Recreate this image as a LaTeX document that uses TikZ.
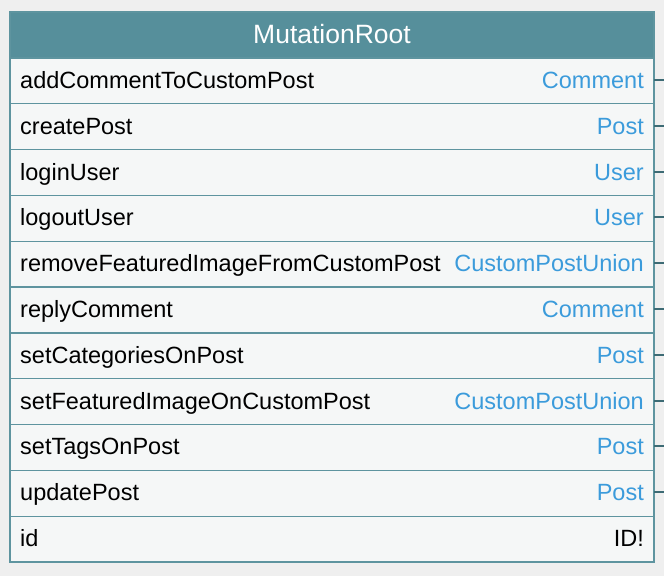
\documentclass[tikz,border=0pt]{standalone}
\usepackage{fontspec}
\setmainfont{Liberation Sans}
\definecolor{pagebg}{HTML}{EFEFEF}
\definecolor{headfill}{HTML}{568F9B}
\definecolor{edgecol}{HTML}{5E949F}
\definecolor{rowfill}{HTML}{F5F7F7}
\definecolor{typecol}{HTML}{3B9BDB}
\definecolor{stubcol}{HTML}{3D6B75}
\tikzset{
  tablerow/.style={draw=edgecol, fill=rowfill, line width=1.2pt, minimum width=644pt,
    minimum height=45.818pt, inner sep=0pt, outer sep=0pt, anchor=north west},
  headrow/.style={tablerow, fill=headfill, minimum height=46pt},
  fieldname/.style={anchor=base west, inner sep=0pt, font=\fontsize{23.5}{27}\selectfont, text=black},
  fieldtype/.style={anchor=base east, inner sep=0pt, font=\fontsize{23.5}{27}\selectfont, text=typecol},
  stub/.style={draw=stubcol, line width=2pt},
}
\begin{document}
\begin{tikzpicture}[x=1pt, y=-1pt]
\fill[pagebg] (0,0) rectangle (664,576);
\useasboundingbox (0,0) rectangle (664,576);
% header
\node[headrow] (head) at (10,12) {};
\node[anchor=base, inner sep=0pt, font=\fontsize{26.5}{30}\selectfont, text=white]
  (title) at ([yshift=-8.5pt]head.center) {MutationRoot};
% field rows
\foreach \i/\fname/\ftype/\linked in {
  1/addCommentToCustomPost/Comment/1,
  2/createPost/Post/1,
  3/loginUser/User/1,
  4/logoutUser/User/1,
  5/removeFeaturedImageFromCustomPost/CustomPostUnion/1,
  6/replyComment/Comment/1,
  7/setCategoriesOnPost/Post/1,
  8/setFeaturedImageOnCustomPost/CustomPostUnion/1,
  9/setTagsOnPost/Post/1,
  10/updatePost/Post/1,
  11/id/ID!/0}{
  \node[tablerow] (r\i) at (10,{58+(\i-1)*45.818}) {};
  \node[fieldname] (n\i) at ([xshift=10pt,yshift=-7.5pt]r\i.west) {\fname};
  \ifnum\linked=1
    \node[fieldtype] (t\i) at ([xshift=-10pt,yshift=-7.5pt]r\i.east) {\ftype};
    \coordinate (s\i) at ([xshift=10pt,yshift=1pt]r\i.east);
    \draw[stub] ([yshift=1pt]r\i.east) -- (s\i);
  \else
    \node[fieldname, anchor=base east] (t\i) at ([xshift=-10pt,yshift=-7.5pt]r\i.east) {\ftype};
  \fi
}
\end{tikzpicture}
\end{document}
